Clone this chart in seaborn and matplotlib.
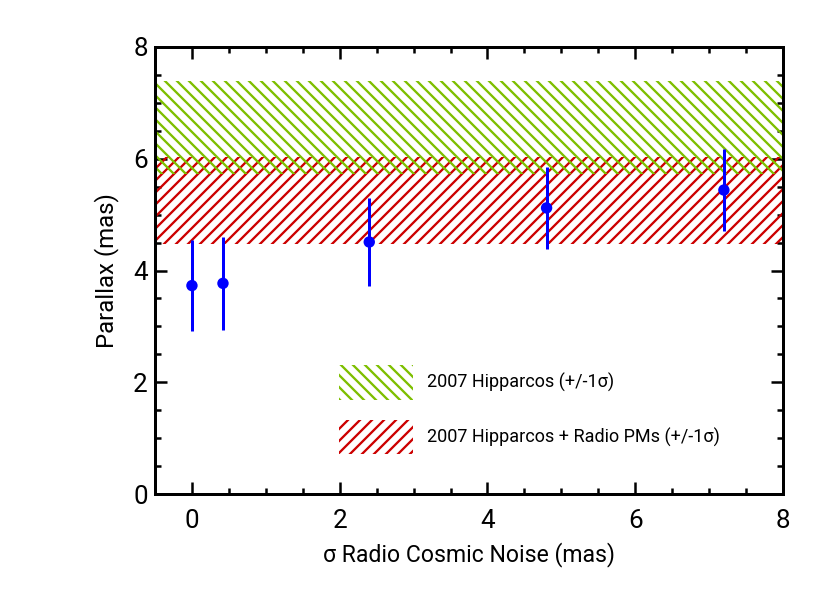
import matplotlib
matplotlib.use("Agg")
import matplotlib.pyplot as plt
from matplotlib.patches import Patch
from matplotlib.ticker import MultipleLocator
import pandas as pd
import seaborn as sns

# measured parallax vs assumed radio cosmic noise
noise = [0.0, 0.42, 2.4, 4.8, 7.2]
parallax = [3.73, 3.77, 4.51, 5.12, 5.44]
parallax_err = [0.82, 0.83, 0.78, 0.73, 0.73]

# 1-sigma bands
hip_band = (5.73, 7.39)
hip_radio_band = (4.47, 6.04)
band_labels = ["2007 Hipparcos (+/-1\u03c3)",
               "2007 Hipparcos + Radio PMs (+/-1\u03c3)"]

green = "#7dbf00"
red = "#cc0000"
blue = "#0000ff"

sns.set_style("ticks")
plt.rcParams["font.family"] = ["Roboto", "DejaVu Sans"]
plt.rcParams["hatch.linewidth"] = 2.3
plt.rcParams["text.color"] = "black"
plt.rcParams["axes.labelcolor"] = "black"
plt.rcParams["xtick.color"] = "black"
plt.rcParams["ytick.color"] = "black"

df = pd.DataFrame({"noise": noise, "parallax": parallax, "err": parallax_err})

fig = plt.figure(figsize=(830 / 72, 593 / 72), dpi=72)
ax = fig.add_axes([155 / 830, 1 - 494 / 593, (783 - 155) / 830, (494 - 47) / 593])

ax.axhspan(*hip_radio_band, facecolor="none", edgecolor=red, hatch="//", lw=0)
ax.axhspan(*hip_band, facecolor="none", edgecolor=green, hatch="\\\\", lw=0)

ax.errorbar(df["noise"], df["parallax"], yerr=df["err"], fmt="none",
            ecolor=blue, elinewidth=3, capsize=0, zorder=3)
sns.scatterplot(data=df, x="noise", y="parallax", ax=ax, color=blue,
                s=130, edgecolor="none", zorder=4)

ax.set_xlim(-0.5, 8)
ax.set_ylim(0, 8)
ax.xaxis.set_major_locator(MultipleLocator(2))
ax.xaxis.set_minor_locator(MultipleLocator(0.5))
ax.yaxis.set_major_locator(MultipleLocator(2))
ax.yaxis.set_minor_locator(MultipleLocator(0.5))
ax.tick_params(which="both", direction="in", top=True, right=True, width=2.5)
ax.tick_params(which="major", length=12, labelsize=26)
ax.tick_params(which="minor", length=6)
ax.tick_params(axis="x", pad=15)
ax.tick_params(axis="y", pad=7)
for sp in ax.spines.values():
    sp.set_linewidth(3)
    sp.set_color("black")

ax.set_xlabel("\u03c3 Radio Cosmic Noise (mas)", fontsize=23, labelpad=9)
ax.set_ylabel("Parallax (mas)", fontsize=24, labelpad=14)

fs = 18
handles = [Patch(facecolor="none", edgecolor=green, hatch="\\\\", lw=0),
           Patch(facecolor="none", edgecolor=red, hatch="//", lw=0)]
ax.legend(handles, band_labels, loc="upper left", frameon=False, fontsize=fs,
          bbox_to_anchor=(339 / 830, 1 - 365 / 593), bbox_transform=fig.transFigure,
          borderpad=0, borderaxespad=0, handlelength=74 / fs, handleheight=2.6,
          handletextpad=0.8, labelspacing=1.1)

fig.savefig("out.png", dpi=72)
